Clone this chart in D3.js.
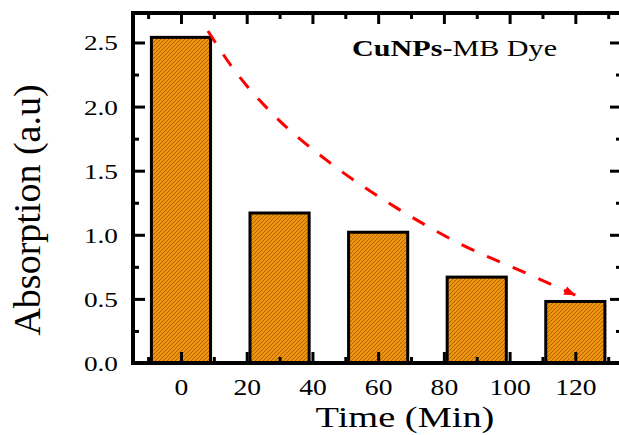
<!DOCTYPE html>
<html>
<head>
<meta charset="utf-8">
<script src="https://cdn.jsdelivr.net/npm/d3@7"></script>
<style>
  body { margin: 0; background: #fff; }
  svg { display: block; font-family: "Liberation Serif"; }
</style>
</head>
<body>
<div id="chart"></div>
<script>
// data
var timeLabels = [0, 20, 40, 60, 80, 100, 120];
var timeMinor = [-10, 10, 30, 50, 70, 90, 110, 130];
var barTimes = [0, 30, 60, 90, 120];
var absorption = [2.54, 1.17, 1.02, 0.67, 0.48];
var absTicks = [0, 0.5, 1.0, 1.5, 2.0, 2.5];
var absMinor = [0.25, 0.75, 1.25, 1.75, 2.25];
var trendTime = [8.2, 15.5, 28, 44.4, 65.6, 85.7, 102.4, 120];
var trendAbs = [2.59, 2.31, 1.94, 1.58, 1.21, 0.92, 0.73, 0.53];

var W = 619, H = 435;
var plot = {left: 133, top: 13, right: 622, bottom: 363};
var barWidth = 18;

var svg = d3.select("#chart").append("svg")
    .attr("width", W)
    .attr("height", H);

var x = d3.scaleLinear().domain([-14.6, 134.2]).range([plot.left, plot.right]);
var y = d3.scaleLinear().domain([0, 2.73]).range([plot.bottom, plot.top]);

// hatch pattern for the bars
var defs = svg.append("defs");
var pat = defs.append("pattern")
    .attr("id", "hatch")
    .attr("patternUnits", "userSpaceOnUse")
    .attr("width", 4)
    .attr("height", 4);
pat.append("rect").attr("width", 4).attr("height", 4).attr("fill", "#f09410");
pat.append("path")
    .attr("d", "M-1,1 l2,-2 M0,4 l4,-4 M3,5 l2,-2")
    .attr("stroke", "#a66000")
    .attr("stroke-width", 0.9);

// bars
var bars = barTimes.map(function(t, i) { return {t: t, v: absorption[i]}; });
svg.append("g").selectAll("rect")
    .data(bars)
    .enter()
    .append("rect")
      .attr("x", function(d) { return x(d.t - barWidth / 2); })
      .attr("width", function(d) { return x(d.t + barWidth / 2) - x(d.t - barWidth / 2); })
      .attr("y", function(d) { return y(d.v); })
      .attr("height", function(d) { return y(0) - y(d.v); })
      .attr("fill", "url(#hatch)")
      .attr("stroke", "#000")
      .attr("stroke-width", 3);

// axes, ticks pointing inward
function tickStyle(g) {
    g.select(".domain").remove();
    g.selectAll(".tick line")
        .attr("stroke", "#000")
        .attr("stroke-width", 3);
}
var minorX = timeMinor.filter(function(v) { return v > -14 && v < 134; });

svg.append("g")
    .attr("transform", "translate(0," + plot.bottom + ")")
    .call(d3.axisBottom(x).tickValues(minorX).tickSize(-6).tickFormat(""))
    .call(tickStyle);
var xAxis = svg.append("g")
    .attr("transform", "translate(0," + plot.bottom + ")")
    .call(d3.axisBottom(x).tickValues(timeLabels).tickSize(-11))
    .call(tickStyle);
xAxis.attr("font-family", "Liberation Serif").attr("font-size", 24);
xAxis.selectAll("text")
    .attr("y", 32)
    .attr("dy", 0)
    .attr("fill", "#000")
    .attr("transform", "scale(1.15,1)");

svg.append("g")
    .attr("transform", "translate(0," + plot.top + ")")
    .call(d3.axisTop(x).tickValues(minorX).tickSize(-6).tickFormat(""))
    .call(tickStyle);
svg.append("g")
    .attr("transform", "translate(0," + plot.top + ")")
    .call(d3.axisTop(x).tickValues(timeLabels).tickSize(-11).tickFormat(""))
    .call(tickStyle);

svg.append("g")
    .attr("transform", "translate(" + plot.left + ",0)")
    .call(d3.axisLeft(y).tickValues(absMinor).tickSize(-6).tickFormat(""))
    .call(tickStyle);
var yAxis = svg.append("g")
    .attr("transform", "translate(" + plot.left + ",0)")
    .call(d3.axisLeft(y).tickValues(absTicks).tickSize(-12).tickFormat(d3.format(".1f")))
    .call(tickStyle);
yAxis.attr("font-family", "Liberation Serif").attr("font-size", 22);
yAxis.selectAll("text")
    .attr("x", -15 / 1.24)
    .attr("dy", "0.34em")
    .attr("fill", "#000")
    .attr("transform", "scale(1.24,1)");

svg.append("g")
    .attr("transform", "translate(" + plot.right + ",0)")
    .call(d3.axisRight(y).tickValues(absMinor).tickSize(-6).tickFormat(""))
    .call(tickStyle);
svg.append("g")
    .attr("transform", "translate(" + plot.right + ",0)")
    .call(d3.axisRight(y).tickValues(absTicks).tickSize(-12).tickFormat(""))
    .call(tickStyle);

// frame
svg.append("rect")
    .attr("x", plot.left)
    .attr("y", plot.top)
    .attr("width", plot.right - plot.left)
    .attr("height", plot.bottom - plot.top)
    .attr("fill", "none")
    .attr("stroke", "#000")
    .attr("stroke-width", 4);

// dashed trend arrow
var trend = trendTime.map(function(t, i) { return [t, trendAbs[i]]; });
var line = d3.line()
    .x(function(d) { return x(d[0]); })
    .y(function(d) { return y(d[1]); })
    .curve(d3.curveMonotoneX);
svg.append("path")
    .attr("d", line(trend))
    .attr("fill", "none")
    .attr("stroke", "#ff0000")
    .attr("stroke-width", 3)
    .attr("stroke-dasharray", "14,14");

// arrow head at the end of the trend, aligned with the last segment
var n = trend.length;
var tipX = x(trend[n - 1][0]), tipY = y(trend[n - 1][1]);
var ang = Math.atan2(tipY - y(trend[n - 2][1]), tipX - x(trend[n - 2][0]));
var headLen = 11, headHalf = 4.5;
var bx = tipX - headLen * Math.cos(ang), by = tipY - headLen * Math.sin(ang);
svg.append("path")
    .attr("d", "M" + tipX + "," + tipY +
               "L" + (bx - headHalf * Math.sin(ang)) + "," + (by + headHalf * Math.cos(ang)) +
               "L" + (bx + headHalf * Math.sin(ang)) + "," + (by - headHalf * Math.cos(ang)) + "Z")
    .attr("fill", "#ff0000");

// labels
var legend = svg.append("text")
    .attr("transform", "translate(352,56) scale(1.31,1)")
    .attr("font-size", 23);
legend.append("tspan").attr("font-weight", "bold").text("CuNPs");
legend.append("tspan").text("-MB Dye");

svg.append("text")
    .attr("transform", "translate(405,427) scale(1.28,1)")
    .attr("text-anchor", "middle")
    .attr("font-size", 30)
    .text("Time (Min)");

svg.append("text")
    .attr("transform", "translate(40,210) rotate(-90)")
    .attr("text-anchor", "middle")
    .attr("font-size", 38)
    .text("Absorption (a.u)");
</script>
</body>
</html>
